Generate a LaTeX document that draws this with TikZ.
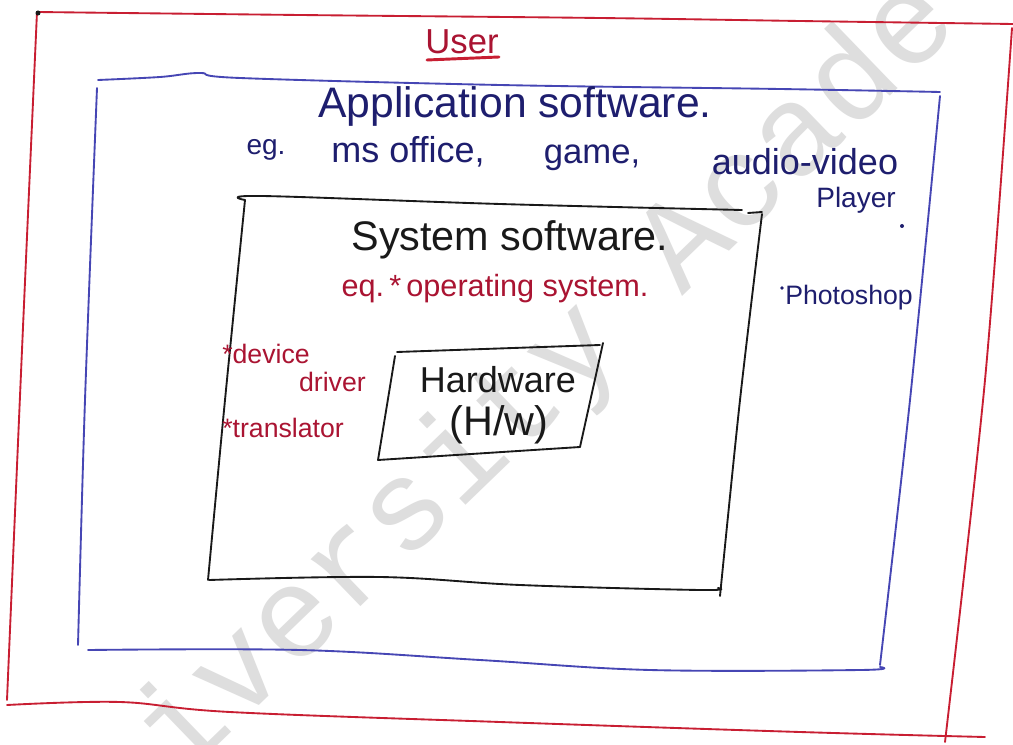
\documentclass[tikz,border=0pt]{standalone}
\usepackage{fontspec}
\setmainfont{Liberation Sans}
\newfontfamily\markfont{Liberation Mono}
\definecolor{inkred}{RGB}{200,30,50}
\definecolor{inkblue}{RGB}{70,70,180}
\definecolor{inknavy}{RGB}{30,30,110}
\definecolor{inkmaroon}{RGB}{170,20,50}
\definecolor{inkblack}{RGB}{25,25,25}
\tikzset{
  pen/.style={line width=1.4pt, line cap=round, line join=round},
  redpen/.style={pen, draw=inkred},
  bluepen/.style={pen, draw=inkblue},
  blackpen/.style={pen, draw=inkblack},
  txt/.style={inner sep=0pt, anchor=center},
}
\begin{document}
\begin{tikzpicture}[x=0.75pt,y=-0.75pt]
\useasboundingbox (0,0) rectangle (1013,745);
\fill[white] (0,0) rectangle (1013,745);

% faint watermark lettering
\node[txt, text=black!13, rotate=44, font=\markfont\fontsize{97}{100}\selectfont] (mark) at (548,380) {iversity Acade};

% outer frame: user
\draw[redpen] plot[smooth, tension=0.6] coordinates {(37,12) (300,15) (600,18) (800,21) (1013,24)};
\draw[redpen] plot[smooth] coordinates {(37,12) (22,350) (7,700)};
\draw[redpen] plot[smooth, tension=0.6] coordinates {(7,705) (120,702) (230,712) (500,722) (800,732) (985,737)};
\draw[redpen] plot[smooth] coordinates {(1012,28) (985,380) (945,742)};
\fill[inkblack] (38,13) circle (2.5);

% application software frame
\draw[bluepen] plot[smooth, tension=0.6] coordinates {(98,80) (160,77) (200,73) (240,78) (500,85) (780,89) (940,92)};
\draw[bluepen] plot[smooth] coordinates {(97,88) (85,400) (78,645)};
\draw[bluepen] plot[smooth, tension=0.6] coordinates {(88,650) (300,650) (480,660) (650,670) (860,670) (880,667)};
\draw[bluepen] plot[smooth] coordinates {(940,96) (910,400) (880,665)};

% system software frame
\draw[blackpen] plot[smooth, tension=0.6] coordinates {(245,200) (262,196) (500,204) (742,210)};
\draw[blackpen] (748,213) -- (762,212);
\draw[blackpen] plot[smooth] coordinates {(245,200) (225,400) (208,580)};
\draw[blackpen] plot[smooth, tension=0.6] coordinates {(209,580) (380,577) (520,585) (700,590) (718,588)};
\draw[blackpen] plot[smooth] coordinates {(762,214) (740,400) (720,596)};

% hardware box
\draw[blackpen] (397,352) -- (600,345);
\draw[blackpen] (395,356) -- (378,460);
\draw[blackpen] (378,460) -- (580,447);
\draw[blackpen] (603,343) -- (580,447);

% user label
\node[txt, text=inkmaroon, font=\fontsize{26}{30}\selectfont] (user) at (462,42) {User};
\draw[line width=2.2pt, draw=inkred, line cap=round] (427,60) -- (499,57);

% application software labels
\node[txt, text=inknavy, font=\fontsize{32}{38}\selectfont] (app) at (515,106) {Application software.};
\node[txt, text=inknavy, font=\fontsize{21}{26}\selectfont] (eg) at (266,150) {eg.};
\node[txt, text=inknavy, font=\fontsize{27}{32}\selectfont] (msoff) at (408,152) {ms office,};
\node[txt, text=inknavy, font=\fontsize{26}{30}\selectfont] (game) at (592,158) {game,};
\node[txt, text=inknavy, font=\fontsize{27}{32}\selectfont] (avp) at (805,162) {audio-video};
\node[txt, text=inknavy, font=\fontsize{21}{24}\selectfont] (player) at (856,200) {Player};
\fill[inknavy] (902,226) circle (2);
\fill[inknavy] (782,288) circle (1.8);
\node[txt, text=inknavy, font=\fontsize{20}{24}\selectfont] (photo) at (849,298) {Photoshop};

% system software labels
\node[txt, text=inkblack, font=\fontsize{31}{36}\selectfont] (sys) at (510,240) {System software.};
\node[txt, text=inkmaroon, font=\fontsize{23}{28}\selectfont] (os) at (495,289) {eq.\,*\,operating system.};
\node[txt, text=inkmaroon, font=\fontsize{20}{24}\selectfont, anchor=west] (dev) at (222,354) {*device};
\node[txt, text=inkmaroon, font=\fontsize{20}{24}\selectfont, anchor=east] (drv) at (366,382) {driver};
\node[txt, text=inkmaroon, font=\fontsize{20}{24}\selectfont, anchor=west] (trn) at (222,428) {*translator};

% hardware labels
\node[txt, text=inkblack, font=\fontsize{27}{32}\selectfont] (hw) at (498,380) {Hardware};
\node[txt, text=inkblack, font=\fontsize{31}{36}\selectfont] (hwabbr) at (499,425) {(H/w)};
\end{tikzpicture}
\end{document}
